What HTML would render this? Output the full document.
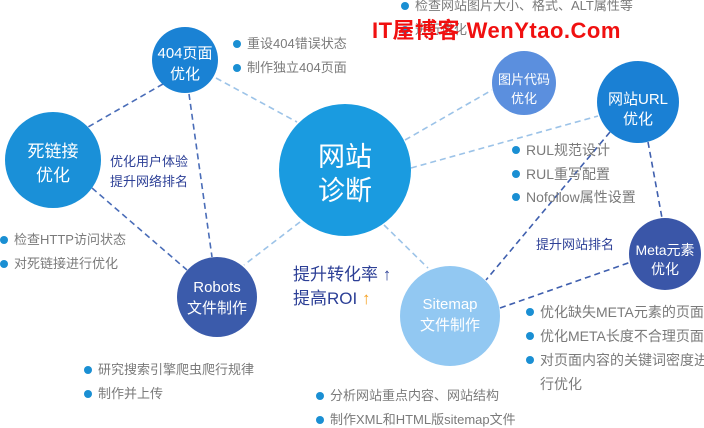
<!DOCTYPE html>
<html><head><meta charset="utf-8"><style>
body{margin:0;width:704px;height:427px;background:#fff;overflow:hidden;position:relative;font-family:"Liberation Sans","Noto Sans CJK SC",sans-serif}
svg{position:absolute;left:0;top:0}
.li{position:absolute;font-size:13px;color:#7a7a7a;white-space:nowrap;line-height:16px}
.li:before{content:"";position:absolute;left:-14px;top:4px;width:8px;height:8px;border-radius:50%;background:#1a8fd3}
.t{position:absolute;white-space:nowrap}
</style></head><body>
<svg width="704" height="427">
<g fill="none" stroke-width="1.6" stroke-dasharray="6,4">
<line x1="163" y1="84" x2="88" y2="127" stroke="#4a6db8"/>
<line x1="189" y1="94" x2="212" y2="257" stroke="#4a6db8"/>
<line x1="216" y1="78" x2="297" y2="122" stroke="#9cc3e8"/>
<line x1="92" y1="188" x2="187" y2="270" stroke="#4a6db8"/>
<line x1="300" y1="222" x2="244" y2="265" stroke="#9cc3e8"/>
<line x1="405" y1="140" x2="492" y2="90" stroke="#9cc3e8"/>
<line x1="411" y1="168" x2="598" y2="116" stroke="#9cc3e8"/>
<line x1="384" y1="225" x2="428" y2="268" stroke="#9cc3e8"/>
<line x1="610" y1="132" x2="486" y2="280" stroke="#3f5fae"/>
<line x1="648" y1="142" x2="662" y2="218" stroke="#3f5fae"/>
<line x1="500" y1="308" x2="631" y2="262" stroke="#3f5fae"/>
</g>
<circle cx="185" cy="60" r="33" fill="#1a82d4"/>
<circle cx="53" cy="160" r="48" fill="#1a90d8"/>
<circle cx="345" cy="170" r="66" fill="#1a9be0"/>
<circle cx="524" cy="83" r="32" fill="#5b8fde"/>
<circle cx="638" cy="102" r="41" fill="#1a80d4"/>
<circle cx="217" cy="297" r="40" fill="#3b5bab"/>
<circle cx="450" cy="316" r="50" fill="#92c8f2"/>
<circle cx="665" cy="254" r="36" fill="#3a56a8"/>
<g fill="#fff" text-anchor="middle" font-family="Liberation Sans,Noto Sans CJK SC,sans-serif">
<text x="185" y="58" font-size="15">404页面</text><text x="185" y="79" font-size="15">优化</text>
<text x="53" y="157" font-size="17">死链接</text><text x="53" y="181" font-size="17">优化</text>
<text x="345" y="166" font-size="27">网站</text><text x="345" y="200" font-size="27">诊断</text>
<text x="524" y="84" font-size="13">图片代码</text><text x="524" y="103" font-size="13">优化</text>
<text x="638" y="104" font-size="15">网站URL</text><text x="638" y="124" font-size="15">优化</text>
<text x="217" y="292" font-size="15">Robots</text><text x="217" y="313" font-size="15">文件制作</text>
<text x="450" y="309" font-size="15">Sitemap</text><text x="450" y="330" font-size="15">文件制作</text>
<text x="665" y="255" font-size="14">Meta元素</text><text x="665" y="274" font-size="14">优化</text>
</g>
</svg>
<div class="li" style="left:247px;top:36px">重设404错误状态</div>
<div class="li" style="left:247px;top:60px">制作独立404页面</div>
<div class="li" style="left:415px;top:-2px">检查网站图片大小、格式、ALT属性等</div>
<div class="li" style="left:415px;top:22px">进行优化</div>
<div class="t" style="left:372px;top:13px;font-size:22px;font-weight:bold;color:#f01010;letter-spacing:0.5px">IT屋博客 WenYtao.Com</div>
<div class="t" style="left:110px;top:152px;font-size:13px;color:#2c3f96;line-height:20px">优化用户体验<br>提升网络排名</div>
<div class="li" style="left:526px;top:142px;font-size:14px">RUL规范设计</div>
<div class="li" style="left:526px;top:166px;font-size:14px">RUL重写配置</div>
<div class="li" style="left:526px;top:189px;font-size:14px">Nofollow属性设置</div>
<div class="li" style="left:14px;top:232px">检查HTTP访问状态</div>
<div class="li" style="left:14px;top:256px">对死链接进行优化</div>
<div class="t" style="left:536px;top:234px;font-size:13px;color:#2c3f96">提升网站排名</div>
<div class="t" style="left:293px;top:263px;font-size:17px;color:#2c3f96;line-height:24px">提升转化率 ↑<br>提高ROI <span style="color:#f5a020">↑</span></div>
<div class="li" style="left:540px;top:304px;font-size:14px">优化缺失META元素的页面</div>
<div class="li" style="left:540px;top:328px;font-size:14px">优化META长度不合理页面</div>
<div class="li" style="left:540px;top:352px;font-size:14px">对页面内容的关键词密度进</div>
<div class="t" style="left:540px;top:374px;font-size:14px;color:#7a7a7a">行优化</div>
<div class="li" style="left:98px;top:362px">研究搜索引擎爬虫爬行规律</div>
<div class="li" style="left:98px;top:386px">制作并上传</div>
<div class="li" style="left:330px;top:388px">分析网站重点内容、网站结构</div>
<div class="li" style="left:330px;top:412px">制作XML和HTML版sitemap文件</div>
</body></html>
